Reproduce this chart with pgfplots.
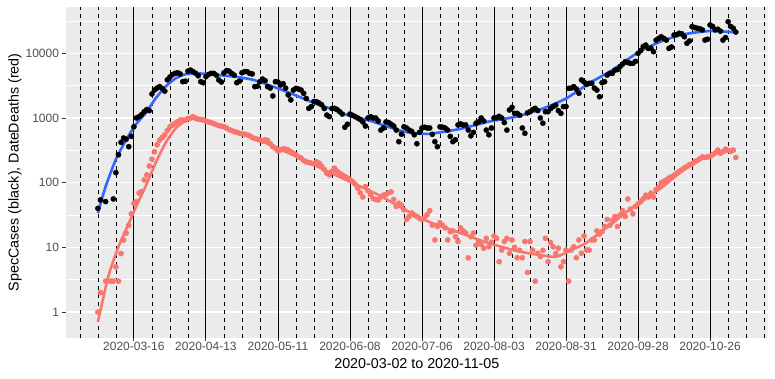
\documentclass[border=0pt]{standalone}
\usepackage{pgfplots}
\usepackage{pgfplotstable}
\usepackage{fontspec}
\setmainfont{Liberation Sans}
\pgfplotsset{compat=1.18}
\definecolor{panelbg}{HTML}{EBEBEB}
\definecolor{tickgray}{HTML}{4D4D4D}
\definecolor{tickmark}{HTML}{333333}
\definecolor{ggred}{HTML}{F8766D}
\definecolor{ggblue}{HTML}{3366FF}

\pgfplotstableread{
d v
0 40
1 54
3 51
6 56
7 143
8 270
9 420
10 490
11 470
12 360
13 520
14 730
15 1000
16 1050
17 1130
18 1250
19 1350
20 1300
21 2350
22 2700
23 2900
24 3050
25 2870
26 2600
27 3900
28 4300
29 4700
30 4900
31 5000
32 4800
33 3640
34 3700
35 5300
36 5500
37 5200
38 4900
39 4500
40 3640
41 3500
42 4350
43 4700
44 4900
45 4900
46 4600
47 3870
48 3600
49 5000
50 5400
51 5300
52 4900
53 4600
54 3510
55 3700
56 5000
57 5200
58 5200
59 4900
60 4800
61 3050
62 3100
63 3640
64 4000
65 3780
66 3050
67 2900
68 2190
69 3640
70 3600
71 3240
72 3400
73 2900
74 2270
75 1900
76 2700
77 2870
78 2800
79 2700
80 2400
81 2000
82 1410
83 1500
84 1800
85 1780
86 1700
87 1600
88 1400
89 1110
90 1050
91 1400
92 1410
93 1350
94 1250
95 1150
96 720
97 800
98 1150
99 1100
100 1050
101 1000
102 950
103 870
104 750
105 1000
106 1050
107 1000
108 1000
109 900
110 650
111 700
112 870
113 850
114 800
115 750
116 650
117 430
118 560
119 730
120 700
121 650
122 620
123 550
124 400
125 600
126 700
127 720
128 700
129 700
130 560
131 430
132 360
133 730
134 720
135 700
136 650
137 520
138 430
139 460
140 780
141 810
142 780
143 780
144 650
145 530
146 600
147 830
148 870
149 1000
150 900
151 650
152 550
153 700
154 1000
155 1010
156 1060
157 1000
158 850
159 650
160 1330
161 1460
162 1180
163 1180
164 1100
165 700
166 580
167 1200
168 1250
169 1350
170 1410
171 1300
172 1000
173 830
174 1250
175 1250
176 1400
177 1500
178 1580
179 1300
180 1180
181 1500
182 1500
183 2870
184 2900
185 3050
186 2800
187 2410
188 3870
189 3600
190 3300
191 3440
192 3440
193 2900
194 2700
195 2130
196 3510
197 3640
198 4600
199 4900
200 4900
201 5500
202 5600
203 6200
204 6800
205 7400
206 7200
207 7000
208 7000
209 7500
210 10000
211 11000
212 12700
213 13400
214 11900
215 12000
216 10600
217 16000
218 17000
219 18000
220 17000
221 16000
222 11900
223 12500
224 19200
225 19500
226 20400
227 20000
228 18000
229 14300
230 15500
231 25800
232 25000
233 24400
234 24000
235 23000
236 16000
237 16500
238 27400
239 26000
240 23000
241 23500
242 22000
243 16000
244 17500
245 30800
246 26000
247 24400
248 21300
}\blacktable

\pgfplotstableread{
d v
0 1
1 2
3 3
5 3
6 3
7 5
8 3
9 8
10 13
11 16.6
12 22
13 33
14 48
15 51
16 69
17 73
18 110
19 132
20 181
21 230
22 300
23 385
24 455
25 500
26 550
27 640
28 730
29 780
30 830
31 880
32 930
33 930
34 930
35 980
36 1000
37 1050
38 990
39 960
40 950
41 930
42 900
43 870
44 850
45 820
46 790
47 760
48 750
49 730
50 700
51 660
52 640
53 615
54 600
55 580
56 570
57 560
58 550
59 530
60 500
61 480
62 470
63 455
64 440
65 460
66 450
67 400
68 360
69 340
70 310
71 320
72 335
73 330
74 320
75 300
76 285
77 270
78 250
79 240
80 220
81 210
82 205
83 200
84 195
85 210
86 200
87 180
88 160
89 140
90 132
91 150
92 167
93 150
94 140
95 132
96 125
97 118
98 112
99 104
100 95
101 82
102 70
103 60
104 87
105 75
106 65
107 57
108 55
109 54
110 60
111 64
112 66
113 70
114 72
115 55
116 43
117 48
118 45
119 38
120 27
121 30
122 34
123 31.6
124 30
125 28
126 27
127 29
128 32
129 37
130 22
131 13
132 21
133 24
134 22
135 20
136 13
137 17.5
138 18
139 14.6
140 12.3
141 20
142 18
143 16.6
144 6.9
145 14.6
146 16.6
147 10.8
148 12.3
149 11
150 9.7
151 13.8
152 10.2
153 12
154 15
155 13.8
156 6
157 9.1
158 12.3
159 13.8
160 8.1
161 13
162 10
163 6.9
164 9
165 6.9
166 12.3
167 4.1
168 12.3
169 9.1
170 3
171 8.1
172 7.2
173 9
174 13.8
175 6
176 11.8
177 10.2
178 8
179 9.7
180 5
181 6
182 9.1
183 3
184 9.1
185 10.2
186 6.9
187 13
188 8.1
189 15
190 9.1
191 9.1
192 13
193 13
194 18
195 16
196 17.5
197 21
198 27
199 22
200 26
201 30
202 21
203 31.6
204 37
205 30
206 56
207 39
208 33
209 43
210 47
211 51
212 56
213 64
214 60
215 69
216 60
217 78
218 85
219 100
220 105
221 110
222 118
223 123
224 130
225 140
226 150
227 158
228 170
229 178
230 190
231 195
232 210
233 220
234 235
235 250
236 245
237 250
238 255
239 270
240 290
241 320
242 285
243 300
244 330
245 315
246 305
247 320
248 245
}\redtable

\begin{document}
\begin{tikzpicture}[x=1pt,y=1pt]
\path[use as bounding box] (0,0) rectangle (775,379);
\begin{axis}[
  at={(66pt,41.3pt)}, anchor=south west,
  scale only axis, width=701.7pt, height=330.7pt,
  xmin=-12.4, xmax=260.4,
  ymode=log, ymin=0.401, ymax=52000,
  axis background/.style={fill=panelbg},
  axis line style={draw=none},
  xtick={14,42,70,98,126,154,182,210,238},
  xticklabels={2020-03-16,2020-04-13,2020-05-11,2020-06-08,2020-07-06,2020-08-03,2020-08-31,2020-09-28,2020-10-26},
  ytick={1,10,100,1000,10000},
  yticklabels={1,10,100,1000,10000},
  minor ytick={3.1623,31.623,316.23,3162.3,31623},
  xtick pos=left, ytick pos=left,
  tick align=outside,
  major tick length=3.5pt, minor tick length=0pt,
  tick style={color=tickmark, line width=0.9pt},
  ymajorgrids, yminorgrids,
  major grid style={white, line width=1.3pt},
  minor grid style={white, line width=0.6pt},
  ticklabel style={font=\fontsize{12}{12}\selectfont, text=tickgray},
  xticklabel style={yshift=2.5pt},
  /pgf/number format/assume math mode=true,
  xlabel={2020-03-02 to 2020-11-05},
  ylabel={SpecCases (black), DateDeaths (red)},
  xlabel style={font=\fontsize{14.3}{14.3}\selectfont, at={(axis description cs:0.5,-0.0795)}, anchor=center},
  ylabel style={font=\fontsize{14.3}{14.3}\selectfont, at={(axis description cs:-0.0727,0.5)}, anchor=center, rotate=0},
  clip=true,
]
\pgfplotsinvokeforeach{-7,0,7,21,28,35,49,56,63,77,84,91,105,112,119,133,140,147,161,168,175,189,196,203,217,224,231,245,252,259}{
  \addplot[black, line width=0.6pt, dash pattern=on 4pt off 4pt, forget plot] coordinates {(#1,0.401) (#1,52000)};
}
\pgfplotsinvokeforeach{14,42,70,98,126,154,182,210,238}{
  \addplot[black, line width=0.9pt, forget plot] coordinates {(#1,0.401) (#1,52000)};
}
\addplot[only marks, mark=*, mark size=2.6pt, black, mark options={draw=black, fill=black}] table[x=d,y=v] {\blacktable};
\addplot[ggblue, line width=2.6pt, smooth, tension=0.4] coordinates {
(0,34) (3,87) (7,230) (11,460) (14.6,780) (18.5,1180) (22.4,2000) (26.3,3050) (30.2,4100) (34,4730) (38,4900) (42,4800) (53,4360) (60.6,3870) (70,2870) (77.5,2190) (85,1650) (92,1330) (98,1070) (105,930) (112,750) (119,615) (126,570) (130,575) (141,680) (152,880) (160,1000) (164,1080) (173,1400) (182,2000) (191,3440) (200,5500) (209.5,10000) (218.6,15100) (227.6,19600) (238,22100) (248,21100)};
\addplot[only marks, mark=*, mark size=2.6pt, ggred, mark options={draw=ggred, fill=ggred}] table[x=d,y=v] {\redtable};
\addplot[ggred, line width=2.6pt, smooth, tension=0.4] coordinates {
(0,0.70) (4,3.5) (8,10.2) (12,23.5) (15,44) (18.5,87) (22.4,200) (26.3,410) (30.2,690) (34,900) (37,980) (42,900) (50,700) (60,500) (70,340) (80,225) (90,145) (100,95) (110,62) (120,37) (129,24.5) (141,16.6) (152,11.6) (164,8.6) (176,7.2) (179,7.3) (184,9.1) (189,11.2) (195,16.6) (200,23.5) (205,34) (210,48) (215,64) (220,89) (225,130) (230,180) (235,235) (240,280) (244,305) (248,310)};
\end{axis}
\end{tikzpicture}
\end{document}
